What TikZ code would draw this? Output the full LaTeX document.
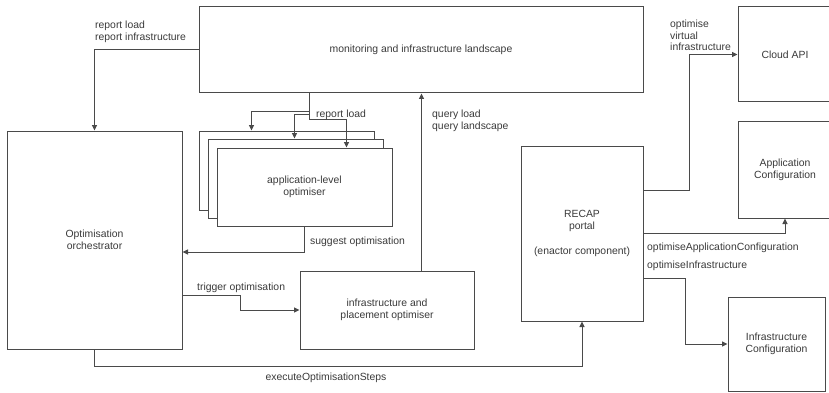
\documentclass[tikz,border=0pt]{standalone}
\usepackage{fontspec}
\setmainfont{Liberation Sans}
\usetikzlibrary{arrows.meta}
\definecolor{linegray}{HTML}{4A4A4A}
\definecolor{textgray}{HTML}{3A3A3A}
\begin{document}
\begin{tikzpicture}[x=1pt,y=-1pt,
  txt/.style={font=\fontsize{10.4}{12.3}\selectfont, text=textgray},
  box/.style={draw=linegray, line width=1pt, fill=white, align=center,
    inner sep=0pt, txt},
  conn/.style={draw=linegray, line width=1pt,
    -{Triangle[length=5.5pt,width=5pt]}},
  wire/.style={draw=linegray, line width=1pt},
  lbl/.style={txt, align=left, inner sep=0pt, anchor=west}]
\useasboundingbox (0,0) rectangle (829,393);
\clip (0,0) rectangle (829,393);

% components
\node[box, minimum width=444pt, minimum height=86pt] (mon) at (421,50)
  {monitoring and infrastructure landscape};
\node[box, minimum width=175pt, minimum height=218pt] (orch) at (94.5,240)
  {Optimisation\\orchestrator};
\node[box, minimum width=175pt, minimum height=79pt] (appA) at (286.5,170.5) {};
\node[box, minimum width=175pt, minimum height=79pt] (appB) at (295.5,178.5) {};
\node[box, minimum width=175pt, minimum height=78pt] (appC) at (304.5,187)
  {application-level\\optimiser};
\node[box, minimum width=174pt, minimum height=78pt] (infra) at (387,310)
  {infrastructure and\\placement optimiser};
\node[box, minimum width=122pt, minimum height=175pt] (recap) at (582,233.5)
  {RECAP\\portal\\[12.5pt](enactor component)};
\node[box, minimum width=94pt, minimum height=95pt] (cloud) at (785,54.5)
  {Cloud API};
\node[box, minimum width=94pt, minimum height=96pt] (appcfg) at (785,170)
  {Application\\Configuration};
\node[box, minimum width=97pt, minimum height=94pt] (infracfg) at (776.5,344)
  {Infrastructure\\Configuration};

% monitoring -> orchestrator
\draw[conn] (mon.west) -| (orch.north);

% monitoring -> application-level optimisers
\coordinate (tap) at (309,93);
\draw[wire] (tap) -- (309,120);
\draw[conn] (309,112) -| ([xshift=53pt]appA.north west);
\draw[conn] (309,115) -| ([xshift=87pt]appB.north west);
\draw[conn] (309,120) -| ([xshift=130pt]appC.north west);

% optimiser -> orchestrator
\draw[conn] (appC.south) |- (orch.east |- 0,252);

% orchestrator -> infrastructure optimiser
\draw[conn] (orch.east |- 0,295) -- (240,295) |- (infra.west);

% infrastructure optimiser -> monitoring
\draw[conn] ([xshift=122pt]infra.north west) -- ([xshift=122pt]infra.north west |- mon.south);

% orchestrator -> RECAP portal
\draw[conn] (orch.south) -- (94.5,366) -| (recap.south);

% RECAP portal -> targets
\draw[conn] (recap.east |- 0,190) -- (689,190) |- (cloud.west);
\draw[conn] (recap.east) -| (appcfg.south);
\draw[conn] (recap.east |- 0,278) -- (685,278) |- (infracfg.west);

% connector labels
\node[lbl] (l1) at (95,32) {report load\\report infrastructure};
\node[lbl] (l2) at (316,114.5) {report load};
\node[lbl] (l3) at (310,242) {suggest optimisation};
\node[lbl] (l4) at (197,288) {trigger optimisation};
\node[lbl] (l5) at (432,121) {query load\\query landscape};
\node[txt, inner sep=0pt] (l6) at (326,378) {executeOptimisationSteps};
\node[lbl, font=\fontsize{10.4}{11.7}\selectfont] (l7) at (670,35.5)
  {optimise\\virtual\\infrastructure};
\node[lbl] (l8) at (647,248) {optimiseApplicationConfiguration};
\node[lbl] (l9) at (647,266) {optimiseInfrastructure};
\end{tikzpicture}
\end{document}
